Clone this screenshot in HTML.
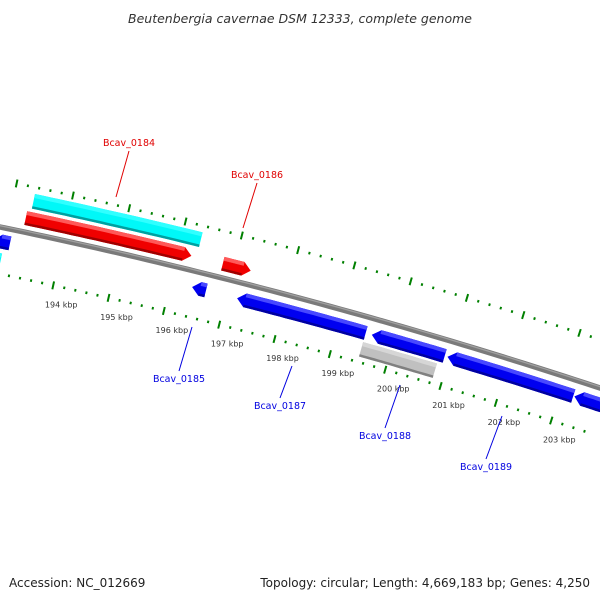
<!DOCTYPE html>
<html><head><meta charset="utf-8">
<style>
html,body{margin:0;padding:0;background:#fff;}
svg{display:block;font-family:"DejaVu Sans","Liberation Sans",sans-serif;}
</style></head>
<body>
<svg id="map" width="600" height="600" viewBox="0 0 600 600">
<text x="300" y="23" text-anchor="middle" font-size="12.5" font-style="italic" fill="#333">Beutenbergia cavernae DSM 12333, complete genome</text>
<text x="9" y="587" font-size="12" fill="#222">Accession: NC_012669</text>
<text x="590" y="587" text-anchor="end" font-size="12" fill="#222">Topology: circular; Length: 4,669,183 bp; Genes: 4,250</text>
<g id="layer"></g>
</svg>
<script>
// ---- data ----
const geneStart = [192.8, 193.35, 193.28, 192.8, 196.38, 196.8, 197.19, 199.5, 199.61, 200.97, 203.25];
const geneEnd   = [193.1, 196.33, 196.24, 193.0, 196.63, 197.3, 199.5, 200.83, 200.92, 203.23, 204.0];
const geneStrand= [-1, 0, 1, 0, -1, 1, -1, 0, -1, -1, -1];
const geneTrack = [14, -32, -14, 33, 16, -14, 16, 33, 16, 16, 16];
const geneKind  = ["blue","cyan","red","cyan","blue","red","blue","grey","blue","blue","blue"];
const labelNames = ["Bcav_0184","Bcav_0186","Bcav_0185","Bcav_0187","Bcav_0188","Bcav_0189"];
const labelColor = ["red","red","blue","blue","blue","blue"];
const labelPos = [[129,146],[257,178],[179,382],[280,409],[385,439],[486,470]];
const labelTarget = [[116,197],[243,228],[192,327],[292,366],[400,385],[502,416]];
const tickLabels = [194,195,196,197,198,199,200,201,202,203];

// ---- geometry ----
const K0 = 192.87, K1 = 203.62;
function pt(k){ const t=(k-K0)/(K1-K0); const x=600*t;
  const y=227*(1-t)*(1-t)+2*289*t*(1-t)+388*t*t;
  const dy=(2*(289-227)*(1-t)+2*(388-289)*t)/600; const L=Math.hypot(1,dy);
  return {x:x,y:y,nx:-dy/L,ny:1/L}; }
function off(k,d){ const p=pt(k); return [p.x+p.nx*d,p.y+p.ny*d]; }
const NS="http://www.w3.org/2000/svg";
const layer=document.getElementById('layer');
function mk(tag,attrs){ const e=document.createElementNS(NS,tag); for(const a in attrs) e.setAttribute(a,attrs[a]); layer.appendChild(e); return e; }
function band(k1,k2,d1,d2){ const pts=[]; const n=20;
  for(let i=0;i<=n;i++){ pts.push(off(k1+(k2-k1)*i/n,d1)); }
  for(let i=n;i>=0;i--){ pts.push(off(k1+(k2-k1)*i/n,d2)); }
  return pts.map(p=>p[0].toFixed(1)+","+p[1].toFixed(1)).join(" "); }

// backbone
const bb=[]; for(let i=0;i<=60;i++){ bb.push(off(K0-0.1+(K1-K0+0.2)*i/60,0)); }
const bbEl=mk('polyline',{points:bb.map(p=>p.join(",")).join(" "),fill:"none",stroke:"#7a7a7a","stroke-width":5.5});


const bbHi=mk('polyline',{points:bb.map(p=>p[0]+","+(p[1]-1.3)).join(" "),fill:"none",stroke:"#a0a0a0","stroke-width":1.3});



// ticks
for(let k=Math.ceil(K0*5)/5;k<=K1+0.01;k+=0.2){
  const major=Math.abs(k-Math.round(k))<0.01;
  const len=major?4:1.3;
  [-46,46].forEach(function(d){
    const a=off(k,d-len), b=off(k,d+len);
    const t=mk('line',{x1:a[0],y1:a[1],x2:b[0],y2:b[1],stroke:"#008000","stroke-width":2});
    
    
  });
}
tickLabels.forEach(function(v){
  const p=off(v,46);
  const t=mk('text',{x:p[0]+8,y:p[1]+22,"text-anchor":"middle","font-size":8,fill:"#333"});
  t.textContent=v+" kbp";
  
  
});

// genes
const colors={blue:["#0000f0","#4848ff","#0000a0"],red:["#f00000","#ff5858","#a00000"],cyan:["#00f8f8","#30ffff","#00a0a0"],grey:["#c0c0c0","#d6d6d6","#808080"]};
for(let i=0;i<geneStart.length;i++){
  const c=colors[geneKind[i]]; const d=geneTrack[i]; const h=geneKind[i]==="cyan"||geneKind[i]==="grey"?7.5:7;
  let k1=geneStart[i], k2=geneEnd[i]; const ah=0.14;
  const g=document.createElementNS(NS,'g'); layer.appendChild(g);
  
  
  let pts;
  if(geneStrand[i]===1){ const b=Math.max(k1,k2-ah); const tip=off(k2,d);
    pts=band(k1,b,d-h,d+h).split(" "); const half=pts.length/2; pts.splice(half,0,tip[0].toFixed(1)+","+tip[1].toFixed(1)); pts=pts.join(" ");
  } else if(geneStrand[i]===-1){ const b=Math.min(k2,k1+ah); const tip=off(k1,d);
    pts=band(b,k2,d-h,d+h)+" "+tip[0].toFixed(1)+","+tip[1].toFixed(1);
  } else pts=band(k1,k2,d-h,d+h);
  const main=document.createElementNS(NS,'polygon'); main.setAttribute('points',pts); main.setAttribute('fill',c[0]); g.appendChild(main);
  
  
  const a1=geneStrand[i]===-1?Math.min(k2,k1+ah):k1, a2=geneStrand[i]===1?Math.max(k1,k2-ah):k2;
  const hi=document.createElementNS(NS,'polygon'); hi.setAttribute('points',band(a1,a2,d-h,d-h*0.45)); hi.setAttribute('fill',c[1]); g.appendChild(hi);
  
  
  const sh=document.createElementNS(NS,'polygon'); sh.setAttribute('points',band(a1,a2,d+h-2.5,d+h)); sh.setAttribute('fill',c[2]); g.appendChild(sh);
  
  
}

// labels
for(let i=0;i<labelNames.length;i++){
  const col=labelColor[i]==="red"?"#e00000":"#0000e0";
  const p=labelPos[i], q=labelTarget[i];
  const above=q[1]>p[1];
  const ln=mk('line',{x1:p[0],y1:above?p[1]+5:p[1]-11,x2:q[0],y2:q[1],stroke:col,"stroke-width":1});
  
  
  const t=mk('text',{x:p[0],y:p[1],"text-anchor":"middle","font-size":9.5,fill:col});
  t.textContent=labelNames[i];
  
  
}
</script>
</body></html>
